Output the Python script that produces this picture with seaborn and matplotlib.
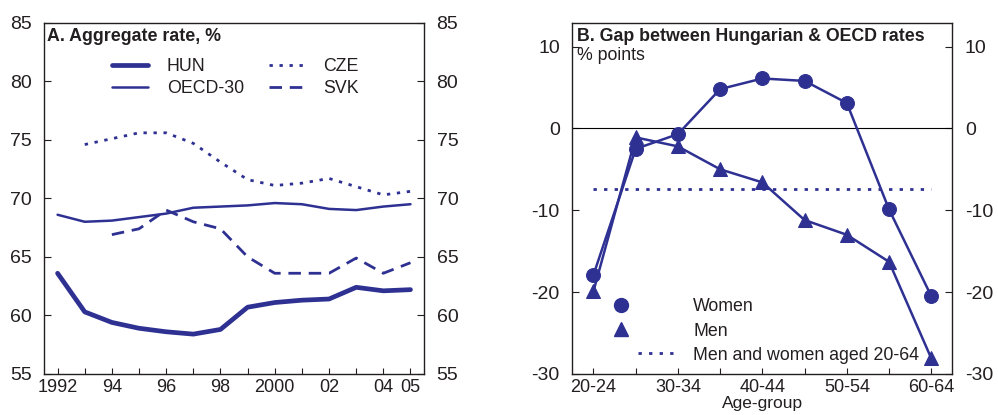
import numpy as np
import matplotlib
matplotlib.use("Agg")
import matplotlib.pyplot as plt
import seaborn as sns
from matplotlib.legend_handler import HandlerLine2D
from matplotlib.lines import Line2D

# Panel A: aggregate employment rate, %
years = np.arange(1992, 2006)
hun = [63.6, 60.3, 59.4, 58.9, 58.6, 58.4, 58.8, 60.7, 61.1, 61.3, 61.4, 62.4, 62.1, 62.2]
oecd = [68.6, 68.0, 68.1, 68.4, 68.7, 69.2, 69.3, 69.4, 69.6, 69.5, 69.1, 69.0, 69.3, 69.5]
cze_years = np.arange(1993, 2006)
cze = [74.6, 75.1, 75.6, 75.6, 74.7, 73.1, 71.6, 71.1, 71.3, 71.7, 71.0, 70.3, 70.6]
svk_years = np.arange(1994, 2006)
svk = [66.9, 67.4, 69.0, 68.0, 67.4, 65.0, 63.6, 63.6, 63.6, 64.9, 63.6, 64.5]
year_labels = ["1992", "", "94", "", "96", "", "98", "", "2000", "", "02", "", "04", "05"]

# Panel B: gap between Hungarian and OECD rates, % points
age_groups = ["20-24", "25-29", "30-34", "35-39", "40-44", "45-49", "50-54", "55-59", "60-64"]
women = [-17.9, -2.5, -0.7, 4.8, 6.1, 5.8, 3.1, -9.9, -20.5]
men = [-19.9, -1.1, -2.2, -5.0, -6.6, -11.2, -13.0, -16.3, -28.1]
all_20_64 = -7.35

blue = "#2e3192"
ink = "#231f20"

sns.set_style("ticks")
plt.rcParams["font.family"] = ["Liberation Sans", "DejaVu Sans"]
plt.rcParams["axes.unicode_minus"] = False
plt.rcParams["text.color"] = ink
plt.rcParams["axes.labelcolor"] = ink
plt.rcParams["xtick.color"] = ink
plt.rcParams["ytick.color"] = ink


class HandleSpan(HandlerLine2D):
    """Legend handler drawing the key only between two fractions of the handle box."""
    def __init__(self, start=0.0, end=1.0, **kw):
        super().__init__(**kw)
        self.start = start
        self.end = end

    def get_xdata(self, legend, xdescent, ydescent, width, height, fontsize):
        x0 = -xdescent + self.start * width
        x1 = -xdescent + self.end * width
        return [x0, x1], [(x0 + x1) / 2]


fig = plt.figure(figsize=(9.98, 4.15), dpi=100)
ax1 = fig.add_axes([0.0441, 0.099, 0.3808, 0.846])
ax2 = fig.add_axes([0.5735, 0.099, 0.3808, 0.846])

# ---- Panel A
sns.lineplot(x=years, y=hun, ax=ax1, color=blue, lw=3.4, label="HUN")
sns.lineplot(x=years, y=oecd, ax=ax1, color=blue, lw=1.8, label="OECD-30")
sns.lineplot(x=cze_years, y=cze, ax=ax1, color=blue, lw=2.0, label="CZE")
sns.lineplot(x=svk_years, y=svk, ax=ax1, color=blue, lw=2.0, label="SVK")
ax1.lines[2].set_dashes([1.2, 2.4])
ax1.lines[3].set_dashes([4.5, 2.8])

ax1.set_xlim(1991.5, 2005.5)
ax1.set_ylim(55, 85)
ax1.set_xticks(years)
ax1.set_xticklabels(year_labels)
ax1.set_yticks(np.arange(55, 86, 5))
ax1.text(0.008, 0.985, "A. Aggregate rate, %", transform=ax1.transAxes,
         fontsize=12.8, fontweight="bold", va="top", ha="left")
h, l = ax1.get_legend_handles_labels()
ax1.legend(h, l, ncol=2, loc="upper left", bbox_to_anchor=(0.18, 0.90),
           frameon=False, fontsize=12.8, borderpad=0, borderaxespad=0,
           handlelength=2.0, handletextpad=1.07, columnspacing=1.4,
           labelspacing=0.31)

# ---- Panel B
pos = np.arange(len(age_groups))
ax2.axhline(0, color="black", lw=0.8, zorder=1)
sns.lineplot(x=pos, y=women, ax=ax2, color=blue, lw=1.8, marker="o",
             markersize=10, markeredgecolor=blue, label="Women")
sns.lineplot(x=pos, y=men, ax=ax2, color=blue, lw=1.8, marker="^",
             markersize=10, markeredgecolor=blue, label="Men")
sns.lineplot(x=pos, y=[all_20_64] * len(pos), ax=ax2, color=blue, lw=2.0,
             label="Men and women aged 20-64")
ax2.lines[-1].set_dashes([1.2, 2.6])

ax2.set_xlim(-0.5, 8.5)
ax2.set_ylim(-30, 12.9)
ax2.set_xticks(pos)
ax2.set_xticklabels([g if i % 2 == 0 else "" for i, g in enumerate(age_groups)])
ax2.set_yticks([-30, -20, -10, 0, 10])
ax2.set_xlabel("Age-group", fontsize=12.5, labelpad=0)
ax2.text(0.012, 0.985, "B. Gap between Hungarian & OECD rates", transform=ax2.transAxes,
         fontsize=12.8, fontweight="bold", va="top", ha="left")
ax2.text(0.012, 0.93, "% points", transform=ax2.transAxes,
         fontsize=12.8, va="top", ha="left")

w_handle = Line2D([], [], color=blue, lw=0, marker="o", markersize=10)
m_handle = Line2D([], [], color=blue, lw=0, marker="^", markersize=10)
d_handle = Line2D([], [], color=blue, lw=2.0, dashes=[1.2, 2.6])
ax2.legend([w_handle, m_handle, d_handle],
           ["Women", "Men", "Men and women aged 20-64"],
           handler_map={w_handle: HandleSpan(0.17, 0.17),
                        m_handle: HandleSpan(0.17, 0.17),
                        d_handle: HandleSpan(0.43, 1.0)},
           loc="upper left", bbox_to_anchor=(0.1, 0.215), frameon=False,
           fontsize=12.8, borderpad=0, borderaxespad=0, handlelength=3.65,
           handletextpad=1.0, labelspacing=0.4)

for ax in (ax1, ax2):
    ax.set_ylabel("")
    for s in ax.spines.values():
        s.set_visible(True)
        s.set_color(ink)
        s.set_linewidth(1.0)
    ax.tick_params(axis="y", direction="in", left=True, right=True,
                   labelleft=True, labelright=True, length=5, pad=9,
                   labelsize=14)
    ax.tick_params(axis="x", direction="in", top=False, length=4, pad=4,
                   labelsize=13)

fig.savefig("out.png", dpi=100)
